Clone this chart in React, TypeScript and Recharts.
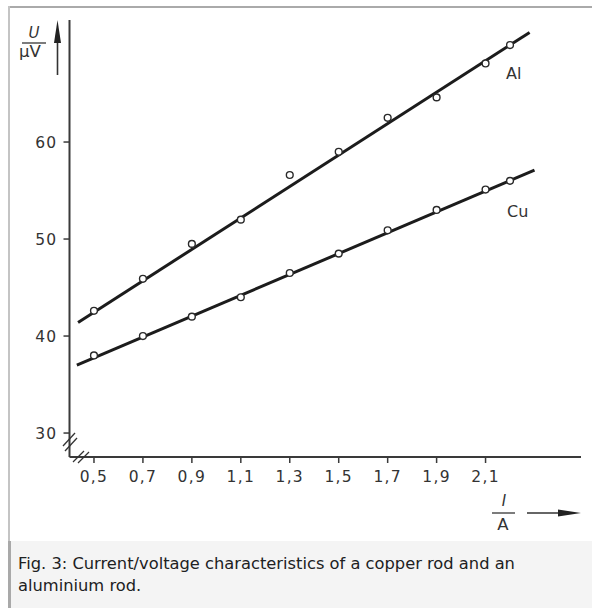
import React from 'react';
import { ScatterChart, Scatter, XAxis, YAxis } from 'recharts';

// Measured points (current I in A, voltage U in µV)
const currents = [0.5, 0.7, 0.9, 1.1, 1.3, 1.5, 1.7, 1.9, 2.1, 2.2];
const alVoltage = [42.6, 45.9, 49.5, 52.0, 56.6, 59.0, 62.5, 64.6, 68.1, 70.0];
const cuVoltage = [38.0, 40.0, 42.0, 44.0, 46.5, 48.5, 50.9, 53.0, 55.1, 56.0];

// Fitted straight lines (endpoints as drawn)
const alFitI = [0.435, 2.28];
const alFitU = [41.4, 71.3];
const cuFitI = [0.43, 2.3];
const cuFitU = [37.0, 57.1];

const xTicks = [0.5, 0.7, 0.9, 1.1, 1.3, 1.5, 1.7, 1.9, 2.1];
const yTicks = [30, 40, 50, 60];

const seriesNames = ['Al', 'Cu'];
const captionLine1 = 'Fig. 3: Current/voltage characteristics of a copper rod and an';
const captionLine2 = 'aluminium rod.';

const alPoints = currents.map((i, k) => ({ i, u: alVoltage[k] }));
const cuPoints = currents.map((i, k) => ({ i, u: cuVoltage[k] }));
const alFit = alFitI.map((i, k) => ({ i, u: alFitU[k] }));
const cuFit = cuFitI.map((i, k) => ({ i, u: cuFitU[k] }));

const fmt = (v: number) => v.toFixed(1).replace('.', ',');

const OpenCircle = (props: any) => {
  const { cx, cy } = props;
  if (cx == null || cy == null) return <g />;
  return <circle cx={cx} cy={cy} r={3.4} fill="#fff" stroke="#2a2a2a" strokeWidth={1.4} />;
};
const NoShape = () => <g />;

const tickFont = { fontFamily: 'DejaVu Sans', fontSize: 15.5, fill: '#333', letterSpacing: 1.3 };
const axisColor = '#3a3a3a';
const lineColor = '#1c1c1c';

export default function App() {
  return (
    <div style={{ position: 'absolute', left: 0, top: 0, width: 592, height: 608, background: '#fff' }}>
      <div style={{ position: 'absolute', left: 8, top: 6, width: 584, height: 2, background: '#aaaaaa' }} />
      <div style={{ position: 'absolute', left: 8, top: 6, width: 2, height: 535, background: '#c4c4c4' }} />
      <div style={{ position: 'absolute', left: 0, top: 0 }}>
        <ScatterChart width={592} height={540} margin={{ top: 20, right: 11, bottom: 53, left: 19.5 }}>
          <XAxis
            type="number"
            dataKey="i"
            domain={[0.4, 2.49]}
            ticks={xTicks}
            tickFormatter={fmt}
            height={30}
            tickSize={6}
            tickMargin={8}
            axisLine={{ stroke: axisColor, strokeWidth: 2 }}
            tickLine={{ stroke: axisColor, strokeWidth: 1.5 }}
            tick={tickFont}
            allowDataOverflow
          />
          <YAxis
            type="number"
            dataKey="u"
            domain={[27.53, 72.58]}
            ticks={yTicks}
            width={50}
            tickSize={6}
            tickMargin={6}
            axisLine={{ stroke: axisColor, strokeWidth: 2 }}
            tickLine={{ stroke: axisColor, strokeWidth: 1.5 }}
            tick={tickFont}
            allowDataOverflow
          />
          <Scatter name="Al fit" data={alFit} line={{ stroke: lineColor, strokeWidth: 3 }} shape={NoShape} isAnimationActive={false} />
          <Scatter name="Cu fit" data={cuFit} line={{ stroke: lineColor, strokeWidth: 3 }} shape={NoShape} isAnimationActive={false} />
          <Scatter name={seriesNames[0]} data={alPoints} shape={OpenCircle} isAnimationActive={false} />
          <Scatter name={seriesNames[1]} data={cuPoints} shape={OpenCircle} isAnimationActive={false} />
        </ScatterChart>
      </div>
      <svg width={592} height={540} style={{ position: 'absolute', left: 0, top: 0, pointerEvents: 'none' }}>
        {/* y axis label U / µV with arrow */}
        <text x={34} y={38} textAnchor="middle" fontFamily="DejaVu Sans" fontStyle="italic" fontSize={15} fill="#333">U</text>
        <line x1={22} x2={46} y1={43} y2={43} stroke="#444" strokeWidth={1.4} />
        <text x={30} y={57} textAnchor="middle" fontFamily="DejaVu Sans" fontSize={16.5} fill="#333">µV</text>
        <line x1={57.5} x2={57.5} y1={75} y2={36} stroke="#333" strokeWidth={1.6} />
        <polygon points="57.5,20 54,43 61,43" fill="#222" />
        {/* x axis label I / A with arrow */}
        <text x={504} y={506} textAnchor="middle" fontFamily="DejaVu Sans" fontStyle="italic" fontSize={15} fill="#333">I</text>
        <line x1={492} x2={515} y1={513} y2={513} stroke="#444" strokeWidth={1.4} />
        <text x={503} y={530} textAnchor="middle" fontFamily="DejaVu Sans" fontSize={16.5} fill="#333">A</text>
        <line x1={527} x2={562} y1={513} y2={513} stroke="#333" strokeWidth={1.6} />
        <polygon points="581,513 558,509.5 558,516.5" fill="#222" />
        {/* series labels */}
        <text x={506} y={79} fontFamily="DejaVu Sans" fontSize={16} fill="#333">{seriesNames[0]}</text>
        <text x={507} y={217} fontFamily="DejaVu Sans" fontSize={16} fill="#333">{seriesNames[1]}</text>
        {/* axis break marks */}
        <line x1={63} y1={446} x2={75} y2={433} stroke="#333" strokeWidth={1.3} />
        <line x1={65} y1={451} x2={77} y2={438} stroke="#333" strokeWidth={1.3} />
        <line x1={73} y1={462} x2={84} y2={451} stroke="#333" strokeWidth={1.3} />
        <line x1={78} y1={463} x2={89} y2={452} stroke="#333" strokeWidth={1.3} />
      </svg>
      <div
        style={{
          position: 'absolute',
          left: 8,
          top: 541,
          width: 584,
          height: 67,
          boxSizing: 'border-box',
          background: '#f4f4f4',
          borderLeft: '3px solid #a9a9a9',
          paddingTop: 11.5,
          paddingLeft: 7,
          fontFamily: 'DejaVu Sans',
          fontSize: 16.3,
          lineHeight: '22px',
          color: '#202122',
          whiteSpace: 'nowrap',
        }}
      >
        {captionLine1}
        <br />
        {captionLine2}
      </div>
    </div>
  );
}
